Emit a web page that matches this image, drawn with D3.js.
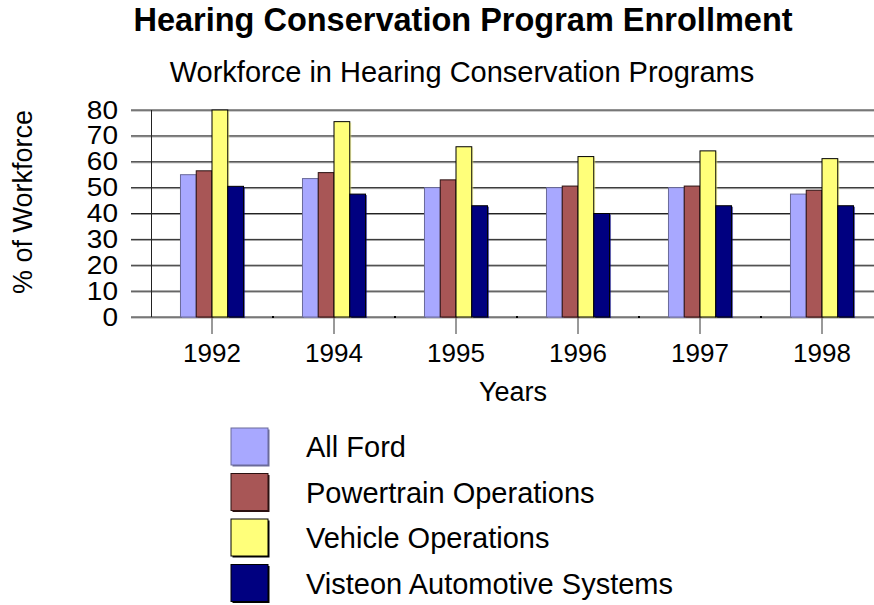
<!DOCTYPE html>
<html lang="en">
<head>
<meta charset="utf-8">
<title>Hearing Conservation Program Enrollment</title>
<script src="https://cdn.jsdelivr.net/npm/d3@7"></script>
<style>
  body { margin: 0; background: #fff; }
  text { font-family: "Liberation Sans", Arial, sans-serif; fill: #000; }
</style>
</head>
<body>
<svg id="chart"></svg>
<script>
// data
var years = ["1992", "1994", "1995", "1996", "1997", "1998"];
var seriesNames = ["All Ford", "Powertrain Operations", "Vehicle Operations", "Visteon Automotive Systems"];
var allFord    = [55, 53.5, 50, 50, 50, 47.5];
var powertrain = [56.5, 55.8, 53, 50.6, 50.6, 49];
var vehicle    = [80, 75.5, 65.8, 62, 64.2, 61.2];
var visteon    = [50.5, 47.5, 43, 40, 43, 43];
var yTicks = [0, 10, 20, 30, 40, 50, 60, 70, 80];

var colours = ["#a8a8ff", "#a85656", "#ffff7a", "#000080"];
var outlines = ["#6a6a9a", "#2a1010", "#000000", "#000000"];

var width = 874, height = 605;
var svg = d3.select("#chart").attr("width", width).attr("height", height);

var values = [allFord, powertrain, vehicle, visteon];

var x = d3.scaleBand().domain(years).range([151, 151 + 122 * 6]).paddingInner(0).paddingOuter(0);
var xs = d3.scaleBand().domain(seriesNames).range([0, x.bandwidth()]).paddingInner(0).paddingOuter(1.87);
var y = d3.scaleLinear().domain([0, 80]).range([317, 110]);

// titles
svg.append("text")
  .attr("x", 463).attr("y", 31)
  .attr("text-anchor", "middle")
  .style("font-size", "32.5px").style("font-weight", "bold")
  .text("Hearing Conservation Program Enrollment");

svg.append("text")
  .attr("x", 462).attr("y", 82)
  .attr("text-anchor", "middle")
  .style("font-size", "29px")
  .text("Workforce in Hearing Conservation Programs");

// gridlines (dark line with a grey line just under it)
var grid = svg.append("g");
grid.selectAll("line.g1").data(yTicks).enter().append("line")
  .attr("class", "g1")
  .attr("x1", 131).attr("x2", width)
  .attr("y1", d => y(d) + 1).attr("y2", d => y(d) + 1)
  .attr("stroke", "#9a9a9a").attr("stroke-width", 1);
grid.selectAll("line.g0").data(yTicks).enter().append("line")
  .attr("class", "g0")
  .attr("x1", 131).attr("x2", width)
  .attr("y1", d => y(d)).attr("y2", d => y(d))
  .attr("stroke", "#222").attr("stroke-width", 1);

// y axis line
svg.append("line")
  .attr("x1", 151.5).attr("x2", 151.5)
  .attr("y1", y(80)).attr("y2", y(0))
  .attr("stroke", "#222").attr("stroke-width", 1);

// y tick labels (wide but short digits, as in the reference)
svg.append("g").selectAll("text").data(yTicks).enter().append("text")
  .attr("transform", d => "translate(118," + (y(d) + 8.5) + ") scale(1.12,1)")
  .attr("text-anchor", "end")
  .style("font-size", "25px")
  .text(d => d);

svg.append("text")
  .attr("transform", "translate(32,202) rotate(-90)")
  .attr("text-anchor", "middle")
  .style("font-size", "27px")
  .text("% of Workforce");

// small ticks at category boundaries
svg.append("g").selectAll("rect").data(years.slice(1)).enter().append("rect")
  .attr("x", d => x(d) - 1).attr("y", y(0) - 1)
  .attr("width", 2).attr("height", 2)
  .attr("fill", "#000");

// category centre ticks under the axis
svg.append("g").selectAll("line").data(years).enter().append("line")
  .attr("x1", d => x(d) + x.bandwidth() / 2).attr("x2", d => x(d) + x.bandwidth() / 2)
  .attr("y1", y(0)).attr("y2", y(0) + 17)
  .attr("stroke", "#777").attr("stroke-width", 1.5);

// bars
var groups = svg.append("g").selectAll("g").data(years).enter().append("g")
  .attr("transform", d => "translate(" + x(d) + ",0)");

seriesNames.forEach(function(name, si) {
  var w = xs.bandwidth();
  // soft shadow in the bar colour
  groups.append("rect")
    .attr("x", xs(name) + 1.5)
    .attr("y", (d, i) => y(values[si][i]) + 1)
    .attr("width", w)
    .attr("height", (d, i) => y(0) - y(values[si][i]))
    .attr("fill", colours[si]).attr("opacity", 0.6);
  groups.append("rect")
    .attr("x", xs(name))
    .attr("y", (d, i) => y(values[si][i]))
    .attr("width", w)
    .attr("height", (d, i) => y(0) - y(values[si][i]))
    .attr("fill", colours[si])
    .attr("stroke", outlines[si]).attr("stroke-width", 1);
});

// x labels
svg.append("g").selectAll("text").data(years).enter().append("text")
  .attr("x", d => x(d) + x.bandwidth() / 2)
  .attr("y", 362)
  .attr("text-anchor", "middle")
  .style("font-size", "26px")
  .text(d => d);

svg.append("text")
  .attr("x", 513).attr("y", 401)
  .attr("text-anchor", "middle")
  .style("font-size", "27px")
  .text("Years");

// legend
var legend = svg.append("g").selectAll("g").data(seriesNames).enter().append("g")
  .attr("transform", (d, i) => "translate(231," + (428 + i * 45.5) + ")");

legend.append("rect")
  .attr("x", 1.5).attr("y", 1.5).attr("width", 37).attr("height", 37)
  .attr("fill", (d, i) => outlines[i]);
legend.append("rect")
  .attr("width", 37).attr("height", 37)
  .attr("fill", (d, i) => colours[i])
  .attr("stroke", (d, i) => outlines[i]).attr("stroke-width", 1);
legend.append("text")
  .attr("x", 75).attr("y", 29)
  .style("font-size", "29px")
  .text(d => d);
</script>
</body>
</html>
